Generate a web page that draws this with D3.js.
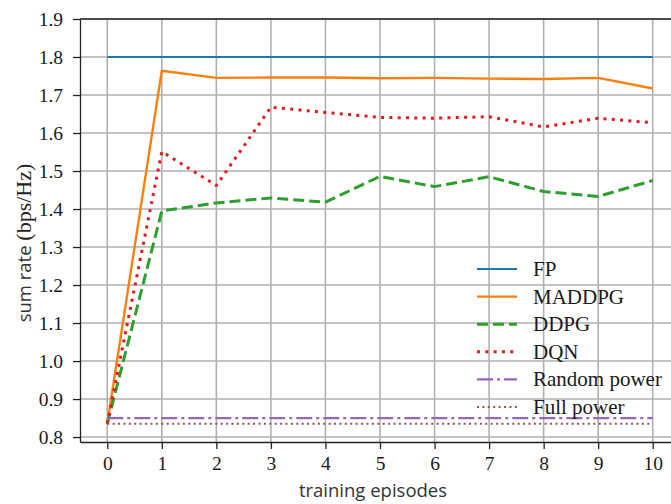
<!DOCTYPE html>
<html>
<head>
<meta charset="utf-8">
<script src="https://cdn.jsdelivr.net/npm/d3@7"></script>
<style>
  body { margin: 0; background: #fff; }
</style>
</head>
<body>
<div class="js-chart"></div>
<script>
var episodes = [0, 1, 2, 3, 4, 5, 6, 7, 8, 9, 10];
var fp = [1.8, 1.8, 1.8, 1.8, 1.8, 1.8, 1.8, 1.8, 1.8, 1.8, 1.8];
var maddpg = [0.835, 1.764, 1.745, 1.746, 1.746, 1.744, 1.745, 1.743, 1.742, 1.745, 1.717];
var ddpg = [0.835, 1.395, 1.416, 1.429, 1.418, 1.486, 1.459, 1.485, 1.446, 1.433, 1.475];
var dqn = [0.835, 1.551, 1.462, 1.668, 1.654, 1.641, 1.639, 1.643, 1.616, 1.639, 1.627];
var randomPower = [0.85, 0.85, 0.85, 0.85, 0.85, 0.85, 0.85, 0.85, 0.85, 0.85, 0.85];
var fullPower = [0.835, 0.835, 0.835, 0.835, 0.835, 0.835, 0.835, 0.835, 0.835, 0.835, 0.835];
var yTicks = [0.8, 0.9, 1.0, 1.1, 1.2, 1.3, 1.4, 1.5, 1.6, 1.7, 1.8, 1.9];

var series = [
    {name: 'FP', values: fp, color: '#1f77b4', width: 2.2, dash: null},
    {name: 'MADDPG', values: maddpg, color: '#ff7f0e', width: 2.4, dash: null},
    {name: 'DDPG', values: ddpg, color: '#2ca02c', width: 3, dash: '11,5'},
    {name: 'DQN', values: dqn, color: '#e3191e', width: 3, dash: '3,5.3'},
    {name: 'Random power', values: randomPower, color: '#9467bd', width: 2.2, dash: '16,4,3,4'},
    {name: 'Full power', values: fullPower, color: '#8c564b', width: 1.8, dash: '2,3.4'}
];

var W = 671, H = 504;
var mLeft = 80, mTop = 19, mBottom = 442, mRight = 680;
var serif = '"Liberation Serif", "Times New Roman", serif';
var sans = '"Open Sans", "Noto Sans", sans-serif';

var x = d3.scaleLinear().domain([-0.5, 10.5]).range([mLeft, mRight]);
var y = d3.scaleLinear().domain([0.787, 1.9]).range([mBottom, mTop]);

var svg = d3.select('.js-chart')
    .append('svg')
    .attr('width', W)
    .attr('height', H)
    .style('display', 'block');

// grid
svg.append('g')
    .selectAll('line')
    .data(episodes)
    .enter()
    .append('line')
        .attr('x1', function(d) { return x(d); })
        .attr('x2', function(d) { return x(d); })
        .attr('y1', mTop)
        .attr('y2', mBottom)
        .attr('stroke', '#b0b0b0')
        .attr('stroke-width', 1.6);

svg.append('g')
    .selectAll('line')
    .data(yTicks)
    .enter()
    .append('line')
        .attr('x1', mLeft)
        .attr('x2', mRight)
        .attr('y1', function(d) { return y(d); })
        .attr('y2', function(d) { return y(d); })
        .attr('stroke', '#b0b0b0')
        .attr('stroke-width', 1.6);

// lines
var line = d3.line()
    .x(function(d, i) { return x(episodes[i]); })
    .y(function(d) { return y(d); });

svg.append('g')
    .selectAll('path')
    .data(series)
    .enter()
    .append('path')
        .attr('d', function(d) { return line(d.values); })
        .attr('fill', 'none')
        .attr('stroke', function(d) { return d.color; })
        .attr('stroke-width', function(d) { return d.width; })
        .attr('stroke-dasharray', function(d) { return d.dash; })
        .attr('stroke-linejoin', 'round');

// axes
var xAxis = d3.axisBottom(x)
    .tickValues(episodes)
    .tickSize(7)
    .tickSizeOuter(0)
    .tickFormat(d3.format('d'));

var yAxis = d3.axisLeft(y)
    .tickValues(yTicks)
    .tickSize(7)
    .tickSizeOuter(0)
    .tickFormat(d3.format('.1f'));

var gx = svg.append('g')
    .attr('transform', 'translate(0,' + mBottom + ')')
    .call(xAxis);
gx.select('.domain').attr('stroke', '#222').attr('stroke-width', 1.3);
gx.selectAll('.tick line').attr('stroke', '#222').attr('stroke-width', 1.3);
gx.selectAll('.tick text')
    .attr('y', 14)
    .style('font-family', serif)
    .style('font-size', '19.5px')
    .attr('fill', '#1a1a1a');

var gy = svg.append('g')
    .attr('transform', 'translate(' + mLeft + ',0)')
    .call(yAxis);
gy.select('.domain').attr('stroke', '#222').attr('stroke-width', 1.3);
gy.selectAll('.tick line').attr('stroke', '#222').attr('stroke-width', 1.3);
gy.selectAll('.tick text')
    .attr('x', -17)
    .style('font-family', serif)
    .style('font-size', '19.5px')
    .attr('fill', '#1a1a1a');

// top spine
svg.append('line')
    .attr('x1', mLeft)
    .attr('x2', mRight)
    .attr('y1', mTop)
    .attr('y2', mTop)
    .attr('stroke', '#222')
    .attr('stroke-width', 1.3);

// axis labels
svg.append('text')
    .attr('x', 373)
    .attr('y', 497)
    .attr('text-anchor', 'middle')
    .style('font-family', sans)
    .style('font-size', '18.5px')
    .attr('fill', '#333')
    .text('training episodes');

var yl = svg.append('text')
    .attr('transform', 'translate(31,243) rotate(-90)')
    .attr('text-anchor', 'middle')
    .attr('fill', '#333');
yl.append('tspan')
    .style('font-family', sans)
    .style('font-size', '18.5px')
    .text('sum rate ');
yl.append('tspan')
    .style('font-family', serif)
    .style('font-size', '22px')
    .attr('fill', '#222')
    .text('(bps/Hz)');

// legend
var legend = svg.append('g')
    .selectAll('g')
    .data(series)
    .enter()
    .append('g')
        .attr('transform', function(d, i) { return 'translate(477,' + (269 + i * 27.6) + ')'; });

legend.append('line')
    .attr('x1', 0)
    .attr('x2', 40)
    .attr('stroke', function(d) { return d.color; })
    .attr('stroke-width', function(d) { return d.width; })
    .attr('stroke-dasharray', function(d) { return d.dash; });

legend.append('text')
    .attr('x', 56)
    .attr('dy', '0.33em')
    .style('font-family', serif)
    .style('font-size', '21px')
    .attr('fill', '#1a1a1a')
    .text(function(d) { return d.name; });
</script>
</body>
</html>
